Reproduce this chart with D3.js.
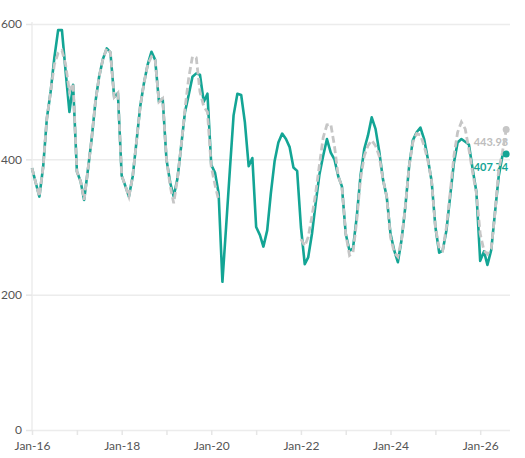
<!DOCTYPE html>
<html>
<head>
<meta charset="utf-8">
<script src="https://cdn.jsdelivr.net/npm/d3@7"></script>
<style>
  body { margin: 0; background: #fff; }
  #canvas { width: 525px; height: 458px; }
  .axis text { font-family: Lato, "Noto Sans", sans-serif; font-size: 12px; fill: #555; }
  .axis path { display: none; }
  .axis line { stroke: #e6e6e6; stroke-width: 1.5; }
  .gridline line { stroke: #ececec; stroke-width: 1.5; }
  .gridline path { display: none; }
  .end-label { font-family: Lato, "Noto Sans", sans-serif; font-size: 11px; font-weight: bold; }
</style>
</head>
<body>
<div id="canvas"></div>
<script>
// first month of the series, one value per month after it
const startMonth = [2016, 0];

const actual = [
  387, 365, 345, 389, 460, 500, 550, 591, 591, 530, 470, 510,
  382, 367, 340, 385, 430, 485, 522, 548, 564, 558, 492, 498,
  376, 360, 345, 375, 425, 478, 512, 540, 559, 547, 485, 490,
  400, 365, 345, 372, 420, 470, 495, 522, 527, 525, 485, 497,
  392, 380, 350, 219, 300, 385, 465, 497, 495, 455, 390, 402,
  300, 288, 271, 295, 350, 398, 425, 438, 430, 418, 388, 383,
  300, 245, 255, 290, 335, 378, 405, 430, 410, 400, 375, 360,
  290, 265, 268, 315, 375, 415, 435, 462, 445, 412, 370, 345,
  290, 265, 248, 282, 330, 390, 428, 440, 447, 430, 400, 368,
  300, 262, 265, 295, 345, 395, 425, 430, 426, 422, 385, 352,
  250, 264, 244, 266, 320, 375, 405, 407.74
];

const expected = [
  387, 365, 345, 389, 460, 500, 540, 557, 561, 540, 500, 512,
  382, 367, 340, 385, 430, 485, 522, 548, 564, 558, 492, 498,
  376, 360, 345, 375, 425, 478, 512, 540, 552, 547, 485, 490,
  400, 360, 335, 372, 420, 475, 520, 552, 550, 500, 478, 470,
  389, 362, 340, null, null, null, null, null, null, null, null, null,
  null, null, null, null, null, null, null, null, null, null, null, null,
  282, 272, 285, 316, 350, 392, 432, 451, 452, 420, 375, 360,
  290, 258, 262, 310, 370, 405, 420, 428, 420, 405, 370, 345,
  285, 262, 256, 282, 330, 390, 425, 438, 436, 420, 398, 368,
  300, 268, 265, 300, 350, 405, 440, 455, 445, 415, 380, 350,
  290, 265, 260, 268, 320, 385, 410, 443.93
];

const yTicks = [0, 200, 400, 600];

const w = 525;
const h = 458;
const margin = { top: 24, bottom: 28, left: 32, right: 15 };

const teal = "#13a595";
const grey = "#c6c6c6";

function render(){
  const width = w - (margin.left + margin.right);
  const height = h - (margin.top + margin.bottom);

  const svg = d3.select("#canvas")
                .append("svg")
                .attr("width", w)
                .attr("height", h);

  const chart = svg.append("g")
                .attr("transform", "translate(" + margin.left + "," + margin.top + ")");

  const months = actual.map(function(d, i){
    return new Date(startMonth[0], startMonth[1] + i, 1);
  });

  const x = d3.scaleTime()
              .domain([months[0], new Date(2026, 8, 1)])
              .range([0, width]);

  const y = d3.scaleLinear()
              .domain([0, 600])
              .range([height, 0]);

  // horizontal gridlines
  chart.append("g")
       .classed("gridline", true)
       .call(d3.axisLeft(y).tickValues(yTicks).tickSize(-width).tickFormat(""));

  // y axis line
  chart.append("line")
       .attr("x1", 0).attr("x2", 0)
       .attr("y1", y(600) - 2).attr("y2", height)
       .style("stroke", "#ececec")
       .style("stroke-width", 1.5);

  chart.append("g")
       .classed("axis", true)
       .call(d3.axisLeft(y).tickValues(yTicks).tickSize(6).tickPadding(4));

  const fmt = d3.timeFormat("%b-%y");
  chart.append("g")
       .classed("axis", true)
       .attr("transform", "translate(0," + height + ")")
       .call(d3.axisBottom(x)
               .ticks(d3.timeYear.every(1))
               .tickSize(5)
               .tickPadding(6)
               .tickFormat(function(d){
                 return d.getFullYear() % 2 === 0 ? fmt(d) : "";
               }));

  const line = d3.line()
                 .defined(function(d){ return d.v != null; })
                 .x(function(d){ return x(d.date); })
                 .y(function(d){ return y(d.v); });

  const actualData = actual.map(function(v, i){ return { date: months[i], v: v }; });
  const expectedData = expected.map(function(v, i){ return { date: months[i], v: v }; });

  chart.append("path")
       .datum(actualData)
       .attr("d", line)
       .style("fill", "none")
       .style("stroke", teal)
       .style("stroke-width", 2.6)
       .style("stroke-linejoin", "round");

  // end labels sit under the dashed line, like the original
  const lastA = actualData[actualData.length - 1];
  const lastE = expectedData[expectedData.length - 1];

  chart.append("text")
       .classed("end-label", true)
       .attr("x", x(lastE.date) + 2)
       .attr("y", y(lastE.v) + 16)
       .attr("text-anchor", "end")
       .style("fill", "#bdbdbd")
       .text(d3.format(".2f")(lastE.v));

  chart.append("text")
       .classed("end-label", true)
       .attr("x", x(lastA.date) + 2)
       .attr("y", y(lastA.v) + 17)
       .attr("text-anchor", "end")
       .style("fill", teal)
       .text(d3.format(".2f")(lastA.v));

  chart.append("path")
       .datum(expectedData)
       .attr("d", line)
       .style("fill", "none")
       .style("stroke", grey)
       .style("stroke-width", 2.8)
       .style("stroke-dasharray", "7,3.5");

  chart.append("circle")
       .attr("cx", x(lastE.date)).attr("cy", y(lastE.v)).attr("r", 3.5)
       .style("fill", grey);
  chart.append("circle")
       .attr("cx", x(lastA.date)).attr("cy", y(lastA.v)).attr("r", 3.5)
       .style("fill", teal);
}

render();
</script>
</body>
</html>
